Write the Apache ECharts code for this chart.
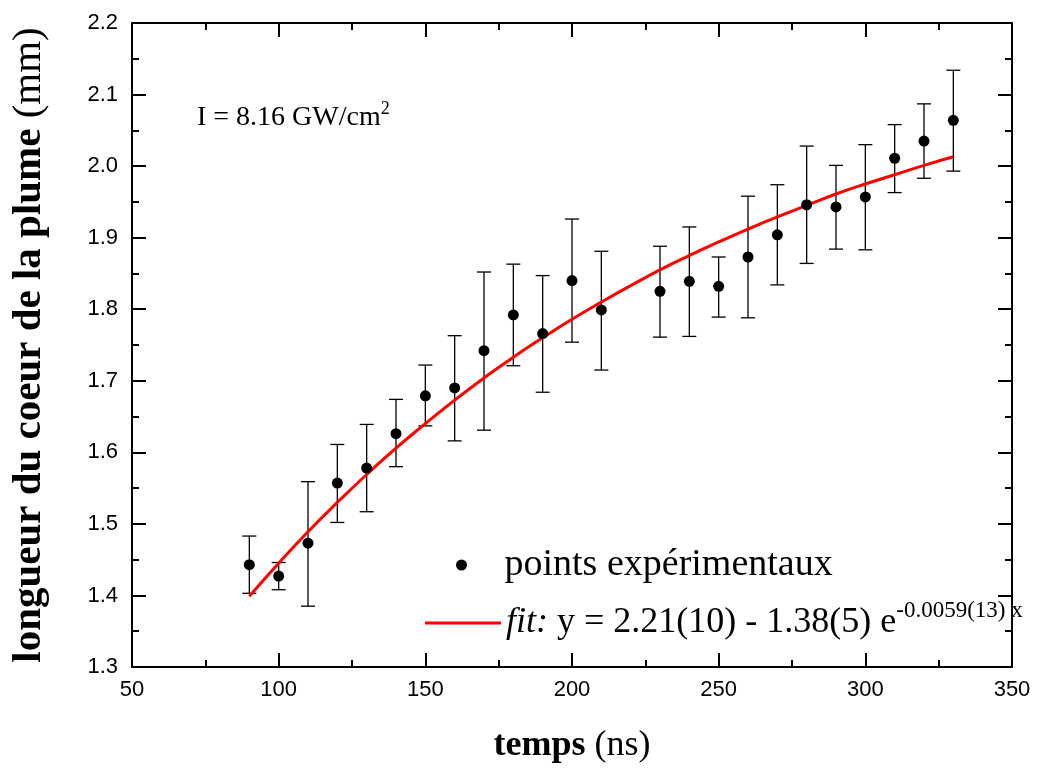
<!DOCTYPE html>
<html><head><meta charset="utf-8">
<script src="https://cdn.jsdelivr.net/npm/echarts@6/dist/echarts.min.js"></script>
<style>html,body{margin:0;padding:0;background:#fff}#c{width:1039px;height:769px}</style>
</head><body><div id="c"></div>
<script>
// ---- data ----
const times   = [90,100,110,120,130,140,150,160,170,180,190,200,210,230,240,250,260,270,280,290,300,310,320,330];
const values  = [1.443,1.427,1.473,1.557,1.578,1.626,1.679,1.690,1.742,1.792,1.766,1.840,1.799,1.825,1.839,1.832,1.873,1.904,1.946,1.943,1.957,2.011,2.035,2.064];
const errLow  = [1.403,1.408,1.385,1.502,1.517,1.580,1.637,1.616,1.631,1.721,1.684,1.754,1.715,1.761,1.762,1.789,1.788,1.834,1.864,1.884,1.883,1.963,1.983,1.993];
const errHigh = [1.483,1.446,1.559,1.611,1.639,1.674,1.722,1.763,1.852,1.863,1.847,1.926,1.881,1.888,1.915,1.873,1.958,1.974,2.028,2.001,2.030,2.058,2.087,2.134];
const fitX    = [90,100,110,120,130,140,150,160,170,180,190,200,210,220,230,240,250,260,270,280,290,300,310,320,330];
const fitY    = [1.399,1.445,1.489,1.530,1.569,1.606,1.640,1.673,1.704,1.733,1.760,1.786,1.810,1.833,1.855,1.875,1.894,1.912,1.929,1.945,1.961,1.975,1.988,2.001,2.013];
const xTicks  = {min:50, max:350, step:50};
const yTicks  = {min:1.3, max:2.2, step:0.1};
const pointsName = 'points expérimentaux';
const fitName = 'fit';
const annotation = 'I = 8.16 GW/cm';

const serif = '"Liberation Serif","Times New Roman",serif';
const sans = '"Liberation Sans",Arial,sans-serif';
const chart = echarts.init(document.getElementById('c'));

const lineSt = {color:'#000', width:2};
function axisBase(extra){
  return Object.assign({
    type:'value',
    axisLine:{show:true, onZero:false, lineStyle:lineSt},
    axisTick:{show:true, inside:true, length:14, lineStyle:lineSt},
    minorTick:{show:true, splitNumber:2, length:7, lineStyle:lineSt},
    splitLine:{show:false},
    minorSplitLine:{show:false}
  }, extra);
}

const option = {
  animation:false,
  backgroundColor:'#fff',
  grid:{left:132, right:27, top:23, bottom:101},
  xAxis:[
    axisBase({min:xTicks.min, max:xTicks.max, interval:xTicks.step, position:'bottom',
      axisLabel:{fontFamily:sans, fontSize:22, color:'#000', margin:12},
      name:'{b|temps} {n|(ns)}', nameLocation:'middle', nameGap:61,
      nameTextStyle:{fontFamily:serif, fontSize:36, color:'#000',
        rich:{b:{fontFamily:serif,fontSize:36,fontWeight:'bold',color:'#000'},
              n:{fontFamily:serif,fontSize:36,color:'#000'}}}}),
    axisBase({min:xTicks.min, max:xTicks.max, interval:xTicks.step, position:'top',
      axisLabel:{show:false}})
  ],
  yAxis:[
    axisBase({min:yTicks.min, max:yTicks.max, interval:yTicks.step, position:'left',
      axisLabel:{fontFamily:sans, fontSize:22, color:'#000', margin:14, formatter:v=>v.toFixed(1)},
      name:'{b|longueur du coeur de la plume} {n|(mm)}', nameLocation:'middle', nameGap:82, nameRotate:90,
      nameTextStyle:{fontFamily:serif, fontSize:41, color:'#000',
        rich:{b:{fontFamily:serif,fontSize:41,fontWeight:'bold',color:'#000'},
              n:{fontFamily:serif,fontSize:41,color:'#000'}}}}),
    axisBase({min:yTicks.min, max:yTicks.max, interval:yTicks.step, position:'right',
      axisLabel:{show:false}})
  ],
  legend:[
    {data:[{name:pointsName, icon:'circle'}], left:451, top:541, itemWidth:76, itemHeight:11,
     selectedMode:false, textStyle:{fontFamily:serif, fontSize:38, color:'#000'}},
    {data:[{name:fitName, icon:'rect'}], left:420, top:594, itemWidth:76, itemHeight:3,
     selectedMode:false,
     formatter:()=>'{i|fit:}{n| y = 2.21(10) - 1.38(5) e}{s|-0.0059(13) x}',
     textStyle:{fontFamily:serif, fontSize:36, color:'#000',
       rich:{i:{fontFamily:serif,fontSize:36,lineHeight:48,fontStyle:'italic',color:'#000'},
             n:{fontFamily:serif,fontSize:36,lineHeight:48,color:'#000'},
             s:{fontFamily:serif,fontSize:23,lineHeight:24,color:'#000',verticalAlign:'top'}}}}
  ],
  graphic:[{
    type:'text', left:197, top:100,
    style:{text:'{n|'+annotation+'}{s|2}',
      rich:{n:{fontFamily:serif,fontSize:28,lineHeight:36,fill:'#000'},
            s:{fontFamily:serif,fontSize:18,lineHeight:22,fill:'#000',verticalAlign:'top'}}}
  }],
  series:[
    {type:'custom', name:'err', xAxisIndex:0, yAxisIndex:0, z:2,
     data:times.map((t,i)=>[t, errLow[i], errHigh[i]]),
     renderItem:(params, api)=>{
       const lo = api.coord([api.value(0), api.value(1)]);
       const hi = api.coord([api.value(0), api.value(2)]);
       const hw = 7;
       const st = {stroke:'#000', lineWidth:1.3};
       return {type:'group', children:[
         {type:'line', shape:{x1:lo[0],y1:lo[1],x2:hi[0],y2:hi[1]}, style:st},
         {type:'line', shape:{x1:lo[0]-hw,y1:lo[1],x2:lo[0]+hw,y2:lo[1]}, style:st},
         {type:'line', shape:{x1:hi[0]-hw,y1:hi[1],x2:hi[0]+hw,y2:hi[1]}, style:st}
       ]};
     }},
    {type:'line', name:fitName, data:fitX.map((x,i)=>[x, fitY[i]]), smooth:true,
     symbol:'none', z:3, lineStyle:{color:'#ff0000', width:3}, itemStyle:{color:'#ff0000'}},
    {type:'scatter', name:pointsName, data:times.map((t,i)=>[t, values[i]]),
     symbol:'circle', symbolSize:11, z:4, itemStyle:{color:'#000', opacity:1}}
  ]
};
chart.setOption(option);
</script>
</body></html>
